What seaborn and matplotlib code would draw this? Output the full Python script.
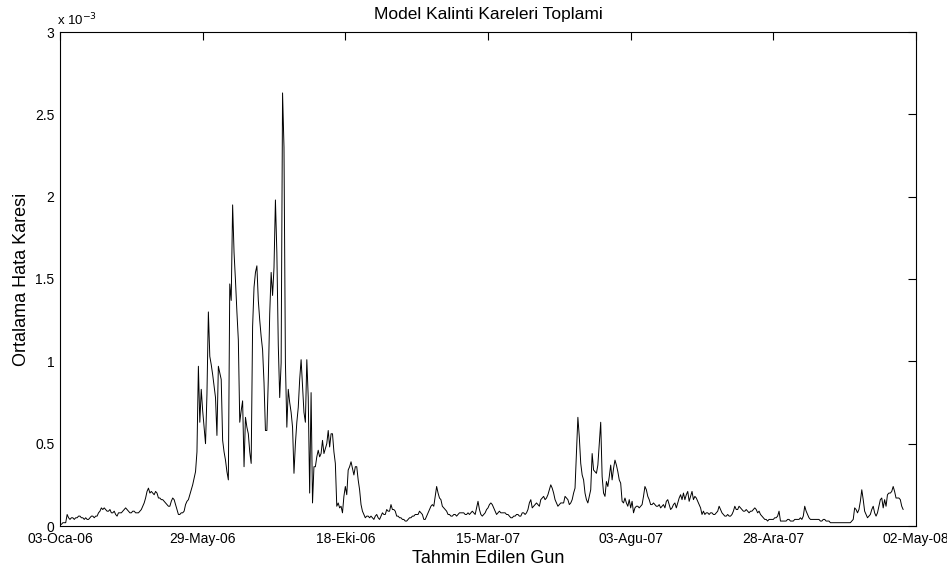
import numpy as np
import pandas as pd
import matplotlib
matplotlib.use("Agg")
import matplotlib.pyplot as plt
from matplotlib.ticker import FuncFormatter
import seaborn as sns

# Daily mean squared error of the model, in units of 1e-5
mse_2006 = [
    1, 1, 2, 2, 2, 7, 5, 4, 5, 5, 4, 5, 5, 6, 6, 5, 5, 4, 5, 4,
    4, 5, 6, 6, 5, 6, 6, 8, 9, 11, 10, 11, 10, 9, 9, 10, 8, 8, 9, 7,
    6, 8, 8, 8, 9, 10, 11, 10, 9, 8, 8, 9, 9, 8, 8, 8, 9, 10, 12, 14,
    17, 21, 23, 20, 21, 20, 19, 21, 20, 17, 17, 16, 16, 15, 14, 13, 12, 12, 15, 17,
    16, 13, 10, 7, 7, 8, 8, 9, 13, 15, 16, 19, 22, 25, 29, 33, 45, 97, 63, 83,
    70, 60, 50, 80, 130, 103, 98, 92, 85, 78, 55, 97, 93, 89, 52, 45, 40, 33, 28, 147,
    137, 195, 166, 149, 130, 113, 63, 70, 76, 36, 66, 60, 56, 45, 38, 121, 145, 154, 158, 137,
    125, 115, 107, 87, 58, 58, 89, 129, 154, 140, 157, 198, 166, 110, 78, 99, 263, 230, 99, 60,
    83, 75, 69, 60, 32, 50, 63, 72, 89, 101, 85, 69, 63, 101, 78, 20, 81, 14, 36, 36,
    42, 46, 42, 44, 52, 44, 47, 50, 58, 48, 56, 56, 45, 38, 12, 14, 11, 12, 8, 18,
    24, 19, 34, 36, 39, 35, 31, 36, 36, 28, 22, 13, 9, 7, 5, 6, 6, 5, 6, 5,
    4, 6, 7, 5, 4, 6, 8, 7, 7, 10, 9, 9, 13, 10, 10, 9, 6, 6, 5, 5,
    4, 4, 3, 3, 4, 5, 5, 6, 6, 7,
]
mse_2007 = [
    7, 7, 9, 8, 7, 4, 4, 6, 8, 10,
    12, 13, 12, 18, 24, 20, 17, 16, 12, 11, 10, 9, 7, 7, 6, 6, 7, 7, 6, 7,
    8, 8, 8, 8, 7, 7, 8, 7, 8, 9, 8, 7, 11, 15, 10, 7, 6, 7, 8, 10,
    11, 13, 14, 13, 11, 9, 7, 8, 9, 8, 8, 8, 8, 7, 7, 6, 5, 5, 6, 6,
    7, 7, 6, 6, 8, 8, 7, 8, 10, 14, 16, 11, 12, 13, 14, 13, 12, 16, 17, 18,
    16, 17, 19, 22, 25, 23, 20, 16, 14, 12, 13, 14, 14, 14, 18, 17, 16, 13, 14, 16,
    20, 23, 45, 66, 54, 38, 31, 28, 20, 16, 14, 18, 22, 44, 34, 33, 32, 37, 50, 63,
    30, 20, 18, 27, 24, 30, 37, 28, 35, 40, 37, 33, 28, 26, 15, 14, 17, 14, 12, 16,
    11, 15, 8, 11, 12, 12, 11, 12, 13, 18, 24, 22, 18, 16, 13, 13, 14, 13, 12, 12,
    13, 11, 12, 13, 11, 15, 16, 13, 10, 11, 13, 14, 11, 14, 17, 19, 16, 20, 16, 19,
    21, 15, 18, 21, 16, 18, 17, 15, 13, 11, 7, 9, 7, 8, 8, 7, 8, 8, 7, 7,
    8, 9, 12, 10, 8, 7, 6, 6, 7, 6, 6, 7, 9, 12, 10, 10, 12, 11, 10, 9,
    9, 10, 9, 8, 9, 9, 10, 11, 10, 8, 9, 7, 6, 5, 4, 4, 3, 4, 4, 4,
    4, 5,
]
mse_2008 = [
    5, 6, 9, 3, 3, 3, 3, 3, 4, 4, 3, 3, 3, 4, 4, 4, 4, 5,
    4, 6, 12, 9, 7, 5, 4, 4, 4, 4, 4, 4, 4, 3, 3, 4, 4, 3, 3, 3,
    2, 2, 2, 2, 2, 2, 2, 2, 2, 2, 2, 2, 2, 2, 2, 3, 4, 11, 10, 8,
    10, 15, 22, 16, 9, 7, 5, 6, 7, 10, 12, 8, 6, 8, 12, 16, 17, 11, 16, 12,
    19, 20, 20, 21, 24, 21, 17, 17, 17, 16, 12, 10,
]

# Trading-day positions of the date ticks and their labels
tick_days = [0, 100, 200, 300, 400, 500, 600]
tick_dates = ["03-Oca-06", "29-May-06", "18-Eki-06", "15-Mar-07",
              "03-Agu-07", "28-Ara-07", "02-May-08"]
y_ticks_e3 = [0, 0.5, 1, 1.5, 2, 2.5, 3]

mse = np.array(mse_2006 + mse_2007 + mse_2008) * 1e-5
df = pd.DataFrame({"gun": np.arange(len(mse)), "mse": mse})

sns.set_theme(style="white")
plt.rcParams["font.family"] = ["Liberation Sans", "DejaVu Sans"]

W, H = 947, 569
fig = plt.figure(figsize=(W / 100, H / 100), dpi=100)
ax = fig.add_axes([60 / W, 1 - 526 / H, 856 / W, 494 / H])

sns.lineplot(data=df, x="gun", y="mse", ax=ax, color="black", linewidth=0.7)

ax.set_xlim(0, 600)
ax.set_ylim(0, 3e-3)
ax.set_xticks(tick_days)
ax.set_xticklabels(tick_dates)
ax.set_yticks([v * 1e-3 for v in y_ticks_e3])
ax.yaxis.set_major_formatter(FuncFormatter(lambda v, p: f"{v * 1e3:g}"))

ax.tick_params(direction="in", length=6, width=0.8, top=True, right=True,
               labelsize=10, colors="black", pad=4)
for s in ax.spines.values():
    s.set_visible(True)
    s.set_color("black")
    s.set_linewidth(0.8)

ax.set_title("Model Kalinti Kareleri Toplami", fontsize=12.5, pad=9, color="black")
ax.set_xlabel("Tahmin Edilen Gun", fontsize=13, labelpad=3, color="black")
ax.set_ylabel("Ortalama Hata Karesi", fontsize=13, labelpad=4, color="black")

ax.annotate(r"x 10$^{-3}$", xy=(0, 1), xycoords="axes fraction",
            xytext=(-2, 3), textcoords="offset points",
            ha="left", va="bottom", fontsize=9.5, color="black")

fig.savefig("out.png", dpi=100)
